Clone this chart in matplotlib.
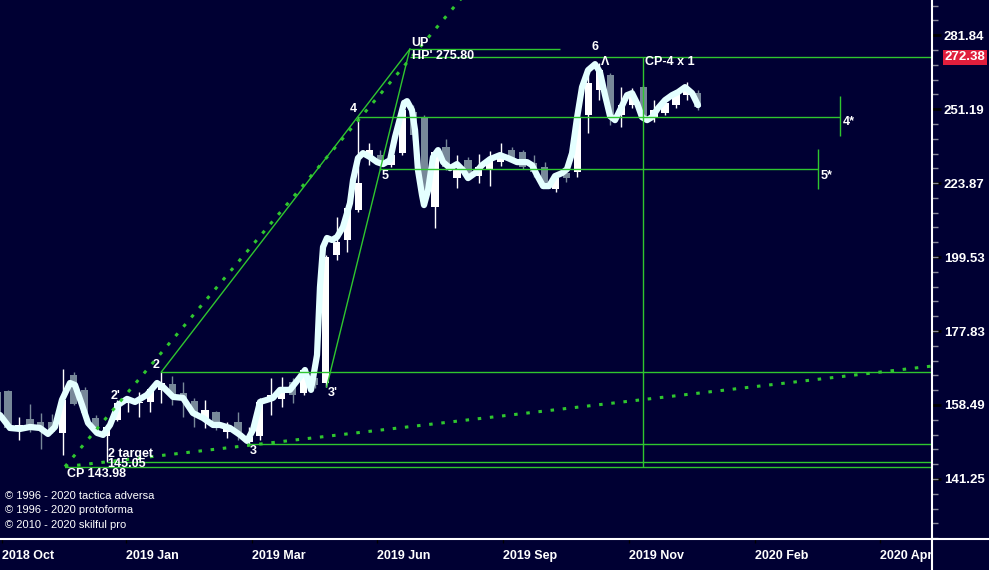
import matplotlib.pyplot as plt
from matplotlib.lines import Line2D
from matplotlib.ticker import FixedLocator, FixedFormatter, NullFormatter
import matplotlib.transforms as mtransforms
import numpy as np

BG = '#000033'
GREEN = '#2fc62f'
GRAY = '#778899'
CURVE = '#e4ffff'

# weekly candles, x = bar index
bars = list(range(-1, 64))
opens = [161.76, 162.01, 152.21, 155.07, 154.35, 154.35, 151.74, 166.06, 162.26, 155.31,
         151.04, 154.83, 159.00, 159.00, 159.24, 162.26, 163.76, 161.51, 159.51, 155.07,
         156.76, 151.98, 154.35, 149.65, 151.04, 159.76, 160.00, 164.27, 161.51, 165.29,
         164.01, 200.17, 204.90, 214.67, 233.47, 233.84, 230.23, 234.57, 250.02, 247.70,
         215.67, 236.77, 225.62, 232.03, 226.32, 228.80, 231.31, 235.67, 234.94, 230.95,
         229.51, 221.79, 227.38, 227.74, 248.86, 258.73, 264.84, 248.86, 252.76, 259.94,
         248.08, 249.63, 252.76, 256.72, 257.52]
highs = [168.14, 162.30, 155.55, 158.77, 156.52, 156.30, 167.61, 166.84, 163.01, 156.03,
         153.64, 159.76, 160.50, 161.76, 162.76, 166.84, 165.80, 164.27, 160.25, 159.76,
         157.00, 154.35, 156.76, 153.16, 160.25, 165.29, 165.54, 165.29, 167.88, 166.84,
         200.17, 212.34, 215.67, 248.08, 238.25, 235.67, 235.67, 254.73, 252.76, 248.86,
         235.67, 239.73, 233.84, 233.11, 234.20, 235.30, 238.25, 236.77, 235.67, 233.84,
         231.31, 226.67, 228.45, 248.86, 264.84, 269.83, 265.66, 259.94, 259.54, 260.75,
         254.73, 254.73, 258.73, 261.97, 258.73]
lows = [152.45, 152.45, 150.11, 151.98, 148.05, 151.74, 146.65, 158.49, 155.31, 151.98,
        145.10, 154.60, 156.76, 155.55, 156.76, 159.00, 158.49, 155.55, 153.16, 152.92,
        152.45, 150.58, 150.11, 149.19, 150.11, 156.03, 158.00, 159.00, 161.00, 162.76,
        163.01, 198.60, 201.11, 214.00, 230.23, 228.45, 229.51, 233.84, 239.36, 218.03,
        208.74, 228.45, 222.14, 224.92, 223.87, 222.83, 229.87, 231.31, 228.80, 225.97,
        222.83, 220.76, 224.22, 225.97, 241.98, 254.73, 245.02, 244.25, 251.58, 246.93,
        246.16, 248.86, 251.58, 254.73, 250.80]
closes = [154.83, 152.92, 153.64, 152.45, 152.92, 151.98, 159.76, 158.77, 156.52, 152.45,
          153.16, 159.00, 160.25, 159.24, 162.50, 164.01, 160.50, 159.76, 156.03, 157.26,
          152.92, 153.16, 151.98, 150.81, 159.24, 161.00, 162.26, 161.00, 167.35, 163.50,
          199.53, 204.27, 215.34, 223.87, 235.67, 231.31, 233.84, 250.80, 241.23, 219.73,
          234.94, 229.51, 228.45, 225.97, 229.51, 232.03, 233.84, 232.75, 229.51, 227.74,
          223.87, 225.62, 225.62, 248.08, 261.57, 266.90, 248.86, 252.76, 256.72, 248.08,
          250.80, 253.55, 257.52, 258.73, 251.97]

# smoothed price curve
curve_x = [-0.73, 0.18, 1.10, 2.01, 2.92, 3.65, 4.29, 4.93, 5.66, 6.12,
           6.76, 7.31, 8.13, 8.68, 9.32, 10.05, 10.87, 11.60, 12.69, 13.61,
           14.16, 15.07, 15.98, 16.89, 17.81, 18.72, 19.36, 20.27, 21.19, 21.83,
           22.37, 23.01, 23.65, 24.20, 24.84, 25.75, 26.67, 27.12, 27.67, 28.22,
           28.49, 28.77, 29.13, 29.59, 30.05, 30.59, 31.23, 31.51, 31.96, 32.42,
           33.06, 33.70, 34.25, 34.89, 35.34, 35.80, 36.16, 36.44, 36.89, 37.17,
           37.44, 37.81, 37.99, 38.36, 38.81, 39.27, 39.73, 40.37, 41.00, 41.55,
           42.01, 42.65, 43.29, 44.02, 44.93, 45.66, 46.48, 47.40, 47.85, 48.31,
           48.86, 49.41, 49.95, 50.59, 51.05, 51.51, 51.96, 52.42, 52.97, 53.61,
           54.06, 54.52, 54.98, 55.43, 55.89, 56.53, 56.99, 57.44, 57.90, 58.36,
           58.81, 59.36, 60.00, 60.64, 61.19, 61.83, 62.47, 63.01]
curve_v = [156.03, 152.92, 152.69, 153.16, 152.92, 151.51, 153.16, 159.76, 164.01, 163.50,
           158.49, 154.11, 151.74, 151.28, 153.64, 158.49, 160.00, 159.24, 161.00, 164.01,
           163.01, 160.50, 160.25, 156.52, 155.31, 153.64, 153.64, 152.92, 151.28, 149.88,
           152.45, 159.24, 159.76, 160.25, 162.26, 162.26, 165.54, 167.35, 162.26, 171.30,
           190.42, 202.68, 205.54, 204.90, 205.86, 209.09, 217.01, 224.92, 232.75, 234.57,
           233.11, 231.31, 230.59, 232.03, 240.48, 247.70, 253.55, 254.34, 250.80, 243.12,
           228.45, 219.73, 216.34, 221.45, 233.11, 235.67, 231.31, 229.16, 230.59, 228.45,
           225.62, 227.38, 230.23, 232.39, 233.84, 232.75, 231.31, 231.31, 230.23, 226.67,
           222.83, 222.83, 226.32, 227.38, 228.80, 234.57, 247.70, 259.94, 266.90, 269.41,
           266.07, 256.72, 248.47, 246.93, 250.80, 256.72, 257.52, 253.55, 248.08, 246.93,
           248.08, 251.58, 254.73, 256.72, 257.93, 259.94, 257.52, 252.76]

# axis ticks
xtick_pos = [-0.55, 10.78, 22.28, 33.70, 45.21, 56.71, 68.22, 79.63]
xtick_labels = ['2018 Oct', '2019 Jan', '2019 Mar', '2019 Jun', '2019 Sep',
                '2019 Nov', '2020 Feb', '2020 Apr']
ytick_vals = [141.25, 158.49, 177.83, 199.53, 223.87, 251.19, 281.84]
ytick_labels = ['141.25', '158.49', '177.83', '199.53', '223.87', '251.19', '281.84']
last_mark = 272.38

# analysis levels
cp_x, cp_v = 5.2, 143.98
target_x, target_v = 9.05, 145.05
p2_x, p2_v = 14.0, 166.84
p3_x, p3_v = 21.8, 149.19
p3b_x, p3b_v = 29.1, 163.01
apex_x, apex_v = 36.7, 275.80
p4_x, p4_v = 32.0, 248.08
p5_x, p5_v = 34.0, 228.80
up_end = 50.4
p4_end, p4_band = 76.0, (240.85, 256.34)
p5_end, p5_band = 74.0, (221.79, 236.04)
cp4_x = 58.0
fan_steep_end = (42.2, 303.3)
fan_flat_end = (84.4, 168.40)

fig = plt.figure(figsize=(9.89, 5.70), dpi=100, facecolor=BG)
ax = fig.add_axes([0, 31 / 570, 932 / 989, 539 / 570])
ax.set_facecolor(BG)
ax.set_yscale('log')
x_right = 84.38
ax.set_xlim(-0.73, x_right)
ax.set_ylim(128.65, 297.7)

for s in ax.spines.values():
    s.set_visible(False)
fig.add_artist(Line2D([932 / 989, 932 / 989], [0, 1], color='white', lw=1.5))
fig.add_artist(Line2D([0, 1], [31 / 570, 31 / 570], color='white', lw=1.5))

# candles
for x, o, h, l, c in zip(bars, opens, highs, lows, closes):
    col = 'white' if c >= o else GRAY
    ax.vlines(x, l, h, color=col, lw=1, zorder=2)
    ax.bar(x, abs(c - o), bottom=min(o, c), width=0.66, color=col, lw=0, zorder=3)

ax.plot(curve_x, curve_v, color=CURVE, lw=4.5, solid_joinstyle='round',
        solid_capstyle='round', zorder=4)

# fan lines
dots = (0, (1.15, 2.85))
ax.plot([cp_x, fan_steep_end[0]], [cp_v, fan_steep_end[1]], color=GREEN, lw=2.2,
        ls=dots, zorder=5)
ax.plot([cp_x, fan_flat_end[0]], [cp_v, fan_flat_end[1]], color=GREEN, lw=2.2,
        ls=dots, zorder=5)
ax.plot([p2_x, apex_x], [p2_v, apex_v], color=GREEN, lw=1, zorder=5)
ax.plot([p3b_x, apex_x], [p3b_v, apex_v], color=GREEN, lw=1, zorder=5)

# horizontal levels
ax.hlines(apex_v, apex_x, up_end, color=GREEN, lw=1, zorder=5)
ax.hlines(last_mark, apex_x, x_right, color=GREEN, lw=1, zorder=5)
ax.hlines(p4_v, p4_x, p4_end, color=GREEN, lw=1, zorder=5)
ax.vlines(p4_end, *p4_band, color=GREEN, lw=1, zorder=5)
ax.hlines(p5_v, p5_x, p5_end, color=GREEN, lw=1, zorder=5)
ax.vlines(p5_end, *p5_band, color=GREEN, lw=1, zorder=5)
ax.hlines(p2_v, p2_x, x_right, color=GREEN, lw=1, zorder=5)
ax.hlines(p3_v, p3_x, x_right, color=GREEN, lw=1, zorder=5)
ax.hlines(target_v, target_x, x_right, color=GREEN, lw=1, zorder=5)
ax.hlines(cp_v, cp_x, x_right, color=GREEN, lw=1, zorder=5)
ax.vlines(cp4_x, cp_v, last_mark, color=GREEN, lw=1, zorder=5)

# labels
lab = dict(color='white', fontsize=9, fontweight='bold',
           family=['Liberation Sans', 'DejaVu Sans'], zorder=6)
ax.text(13.5, 168.66, '2', ha='center', va='center', **lab)
ax.text(9.86, 160.75, "2'", ha='center', va='center', **lab)
ax.text(22.37, 147.56, '3', ha='center', va='center', **lab)
ax.text(29.7, 161.51, "3'", ha='center', va='center', **lab)
ax.text(31.5, 251.19, '4', ha='center', va='center', **lab)
ax.text(34.4, 226.32, '5', ha='center', va='center', **lab)
ax.text(53.6, 276.6, '6', ha='center', va='center', **lab)
ax.text(54.5, 270.25, 'Λ', ha='center', va='center', **lab)
ax.text(36.8, 278.4, 'UP', ha='left', va='center', **lab)
ax.text(36.9, 272.9, "HP' 275.80", ha='left', va='center', **lab)
ax.text(58.2, 270.25, 'CP-4 x 1', ha='left', va='center', **lab)
ax.text(p4_end + 0.25, 246.16, '4*', ha='left', va='center', **lab)
ax.text(p5_end + 0.2, 226.32, '5*', ha='left', va='center', **lab)
ax.text(target_x + 0.05, 146.9, '2 target', ha='left', va='center', **lab)
ax.text(target_x + 0.05, 144.5, '145.05', ha='left', va='center', **lab)
ax.text(cp_x + 0.2, 142.3, 'CP 143.98', ha='left', va='center', **lab)

cp_font = dict(color='white', fontsize=8, family=['Liberation Sans', 'DejaVu Sans'])
fig.text(0.005, 1 - 496 / 570, '© 1996 - 2020 tactica adversa', va='center', **cp_font)
fig.text(0.005, 1 - 510 / 570, '© 1996 - 2020 protoforma', va='center', **cp_font)
fig.text(0.005, 1 - 525 / 570, '© 2010 - 2020 skilful pro', va='center', **cp_font)

# y axis on the right
ax.yaxis.tick_right()
ax.yaxis.set_major_locator(FixedLocator(ytick_vals))
ax.yaxis.set_major_formatter(FixedFormatter(ytick_labels))
ax.yaxis.set_minor_locator(FixedLocator(10 ** np.arange(2.11, 2.475, 0.01)))
ax.yaxis.set_minor_formatter(NullFormatter())
ax.tick_params(axis='y', which='major', length=6.5, width=2, color='black',
               labelcolor='white', labelsize=9.5, pad=2)
ax.tick_params(axis='y', which='minor', length=4, width=1, color='#8a8a9a')
for t in ax.get_yticklabels():
    t.set_fontweight('bold')
    t.set_family(['Liberation Sans', 'DejaVu Sans'])

ax.text(945 / 932, last_mark, f'{last_mark:.2f}', transform=mtransforms.blended_transform_factory(
    ax.transAxes, ax.transData), ha='left', va='center', color='white', fontsize=9.5,
    fontweight='bold', family=['Liberation Sans', 'DejaVu Sans'], clip_on=False,
    bbox=dict(boxstyle='square,pad=0.12', fc='#e01e3c', ec='none'), zorder=7)

# x axis
ax.set_xticks(xtick_pos)
ax.set_xticklabels(xtick_labels)
ax.tick_params(axis='x', length=3, width=1, color='black', labelcolor='white',
               labelsize=9, pad=5)
for t in ax.get_xticklabels():
    t.set_ha('left')
    t.set_fontweight('bold')
    t.set_family(['Liberation Sans', 'DejaVu Sans'])

fig.savefig('out.png', dpi=100, facecolor=BG)
